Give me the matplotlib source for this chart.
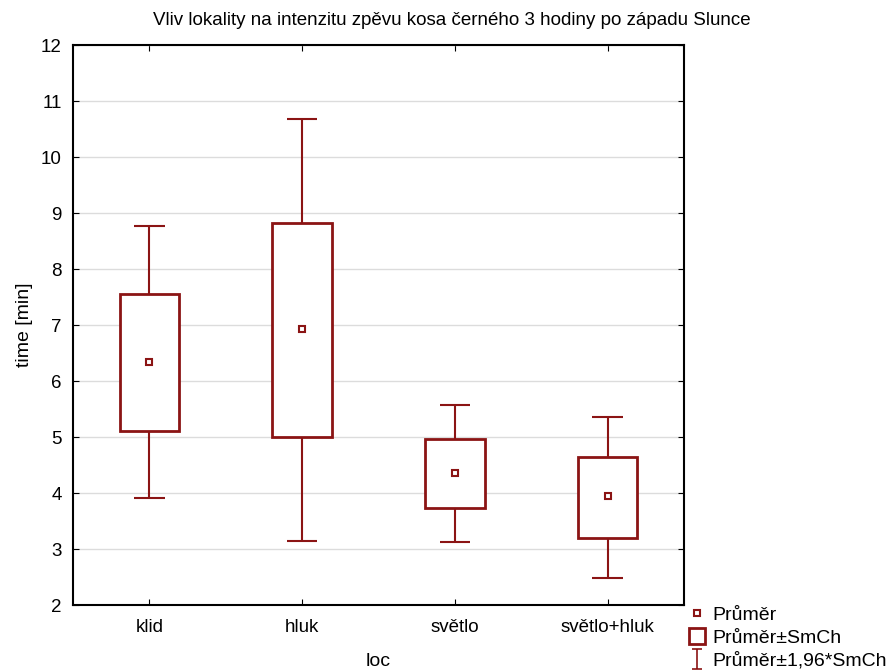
import numpy as np
import matplotlib.pyplot as plt
from matplotlib.lines import Line2D
from matplotlib.path import Path

plt.rcParams['font.family'] = ['Liberation Sans', 'DejaVu Sans']

# values
groups = ['klid', 'hluk', 'světlo', 'světlo+hluk']
mean = [6.34, 6.93, 4.36, 3.94]
se_low = [5.10, 5.00, 3.74, 3.20]
se_high = [7.56, 8.83, 4.97, 4.64]
ci_low = [3.91, 3.14, 3.12, 2.48]
ci_high = [8.76, 10.68, 5.58, 5.35]

col = '#8b1414'
x = np.arange(len(groups))

fig = plt.figure(figsize=(8.91, 6.70), dpi=100)
ax = fig.add_axes([73/891, 65/670, 611/891, 560/670])

# whiskers (mean +- 1.96*SE)
for i in x:
    ax.vlines(i, ci_low[i], se_low[i], color=col, lw=1.5, zorder=2)
    ax.vlines(i, se_high[i], ci_high[i], color=col, lw=1.5, zorder=2)
    ax.hlines([ci_low[i], ci_high[i]], i - 0.1, i + 0.1, color=col, lw=1.5, zorder=2)

# boxes (mean +- SE)
heights = np.array(se_high) - np.array(se_low)
ax.bar(x, heights, bottom=se_low, width=0.39, facecolor='white',
       edgecolor=col, linewidth=2, zorder=3)

ax.plot(x, mean, 's', ms=5, mfc='white', mec=col, mew=1.5, zorder=4)

ax.set_xlim(-0.5, 3.5)
ax.set_ylim(2, 12)
ax.set_yticks(range(2, 13))
ax.set_xticks(x)
ax.set_xticklabels(groups)
ax.yaxis.grid(True, color='#dcdcdc', lw=1)
ax.set_axisbelow(True)
ax.tick_params(direction='in', length=4, top=True, right=True, labelsize=13.5)
ax.tick_params(axis='x', pad=10)
ax.tick_params(axis='y', pad=8)
for s in ax.spines.values():
    s.set_linewidth(1.5)

ax.set_xlabel('loc', fontsize=14, labelpad=12)
ax.set_ylabel('time [min]', fontsize=14, labelpad=6)
fig.suptitle('Vliv lokality na intenzitu zpěvu kosa černého 3 hodiny po západu Slunce',
             x=0.507, y=0.982, fontsize=13.5)

# I-beam marker for the 1.96*SE legend entry
ibeam = Path([(-0.5, 1), (0.5, 1), (0, 1), (0, -1), (-0.5, -1), (0.5, -1)],
             [Path.MOVETO, Path.LINETO, Path.MOVETO, Path.LINETO, Path.MOVETO, Path.LINETO])
h1 = Line2D([], [], ls='none', marker='s', ms=5, mfc='white', mec=col, mew=1.5)
h2 = Line2D([], [], ls='none', marker='s', ms=11.5, mfc='white', mec=col, mew=2)
h3 = Line2D([], [], ls='none', marker=ibeam, ms=15, mfc='none', mec=col, mew=1.2)
fig.legend([h1, h2, h3], ['Průměr', 'Průměr±SmCh', 'Průměr±1,96*SmCh'],
           loc='lower left', bbox_to_anchor=(674/891, -0.023), frameon=False,
           fontsize=14, handlelength=0.8, handletextpad=0.35, labelspacing=0.27,
           borderpad=0.3)

fig.savefig('out.png', dpi=100)
